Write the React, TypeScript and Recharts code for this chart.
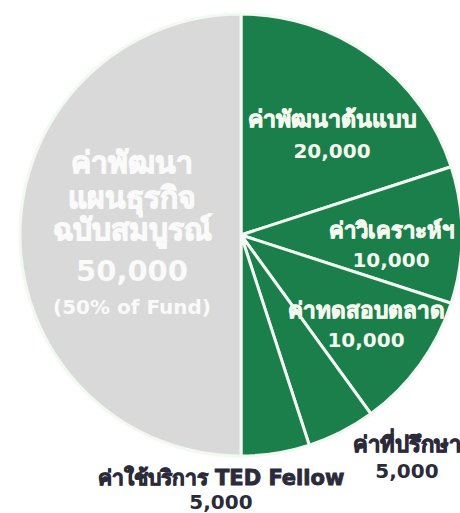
import React from 'react';
import { PieChart, Pie, Cell } from 'recharts';

// Budget breakdown (THB)
const names = [
  'ค่าพัฒนาต้นแบบ',
  'ค่าวิเคราะห์ฯ',
  'ค่าทดสอบตลาด',
  'ค่าที่ปรึกษา',
  'ค่าใช้บริการ TED Fellow',
  'ค่าพัฒนาแผนธุรกิจฉบับสมบูรณ์',
];
const values = [20000, 10000, 10000, 5000, 5000, 50000];
const greyTitleLines = ['ค่าพัฒนา', 'แผนธุรกิจ', 'ฉบับสมบูรณ์'];
const greyNote = '(50% of Fund)';

const GREEN = '#1a7f4b';
const GREY = '#d9d9d9';
const DARK = '#2b2b3a';
const LIGHT = '#f4f8ee';

// label placement, offset from pie centre
const labelLayout = [
  { dx: 91, dy: -108, gap: 31, color: LIGHT, size: 23 },
  { dx: 150, dy: 3, gap: 29, color: LIGHT, size: 22 },
  { dx: 125, dy: 83, gap: 29, color: LIGHT, size: 22.5 },
  { dx: 166, dy: 217, gap: 26, color: DARK, size: 22 },
  { dx: -20, dy: 250, gap: 24, color: DARK, size: 21 },
];

const data = names.map((name, i) => ({ name, value: values[i] }));
const fmt = (v: number) => v.toLocaleString('en-US');
const font = '"DejaVu Sans", "Noto Sans", sans-serif';

const renderLabel = (props: any) => {
  const { cx, cy, index } = props;
  const d = data[index];
  if (index === data.length - 1) {
    const x = cx - 109;
    const ys = [-62, -27, 5];
    return (
      <text x={x} textAnchor="middle" fill="#fafafa" fontFamily={font} fontWeight={700}>
        {greyTitleLines.map((line, i) => (
          <tspan key={i} x={x} y={cy + ys[i]} fontSize={30} stroke="#fafafa" strokeWidth={1.2}>
            {line}
          </tspan>
        ))}
        <tspan x={x} y={cy + 46} fontSize={29}>
          {fmt(d.value)}
        </tspan>
        <tspan x={x} y={cy + 79} fontSize={20}>
          {greyNote}
        </tspan>
      </text>
    );
  }
  const l = labelLayout[index];
  const x = cx + l.dx;
  return (
    <text x={x} textAnchor="middle" fill={l.color} fontFamily={font} fontWeight={700} fontSize={20}>
      <tspan x={x} y={cy + l.dy} fontSize={l.size} stroke={l.color} strokeWidth={0.9}>
        {d.name}
      </tspan>
      <tspan x={x} y={cy + l.dy + l.gap}>{fmt(d.value)}</tspan>
    </text>
  );
};

export default function App() {
  return (
    <div style={{ position: 'absolute', left: 0, top: 0, width: 460, height: 513, background: '#ffffff' }}>
      <PieChart width={460} height={513}>
        <Pie
          data={data}
          dataKey="value"
          nameKey="name"
          cx={236}
          cy={230}
          outerRadius={221}
          startAngle={90}
          endAngle={-270}
          stroke="#f2f8f2"
          strokeWidth={3}
          label={renderLabel}
          labelLine={false}
          isAnimationActive={false}
        >
          {data.map((d, i) => (
            <Cell key={d.name} fill={i === data.length - 1 ? GREY : GREEN} />
          ))}
        </Pie>
      </PieChart>
    </div>
  );
}
